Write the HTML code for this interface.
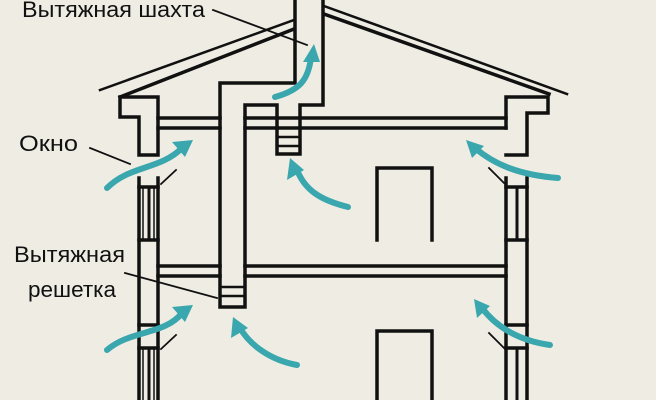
<!DOCTYPE html>
<html><head><meta charset="utf-8"><style>
html,body{margin:0;padding:0;background:#efede3;}
svg{display:block}
text{font-family:"Liberation Sans",sans-serif;font-size:22px;fill:#111}
</style></head><body>
<svg width="656" height="400" viewBox="0 0 656 400" xmlns="http://www.w3.org/2000/svg">
<rect width="656" height="400" fill="#efede3"/>
<g stroke="#111" fill="none" stroke-width="3.5" stroke-linecap="square">
<line x1="100" y1="90" x2="294" y2="20" stroke-width="2.5"/>
<line x1="120" y1="97" x2="294" y2="29"/>
<line x1="324" y1="6" x2="567" y2="94" stroke-width="2.5"/>
<line x1="324" y1="14" x2="549" y2="94"/>
<polyline points="158,128 158,97 120,97 120,117 139,117 139,155 158,155 158,128"/>
<line x1="139" y1="178" x2="139" y2="400"/>
<line x1="158" y1="178" x2="158" y2="400"/>
<line x1="139" y1="187" x2="158" y2="187"/>
<line x1="139" y1="240" x2="158" y2="240"/>
<line x1="149" y1="187" x2="149" y2="240" stroke-width="3"/>
<line x1="143" y1="187" x2="143" y2="240" stroke-width="1.5"/>
<line x1="154" y1="187" x2="154" y2="240" stroke-width="1.5"/>
<line x1="139" y1="325" x2="158" y2="325"/>
<line x1="139" y1="348" x2="158" y2="348"/>
<line x1="149" y1="348" x2="149" y2="400" stroke-width="3"/>
<line x1="143" y1="348" x2="143" y2="400" stroke-width="1.5"/>
<line x1="154" y1="348" x2="154" y2="400" stroke-width="1.5"/>
<polyline points="506,128 506,97 548,97 548,113 527,113 527,155 506,155"/>
<line x1="506" y1="178" x2="506" y2="400"/>
<line x1="527" y1="178" x2="527" y2="400"/>
<line x1="506" y1="187" x2="527" y2="187"/>
<line x1="506" y1="240" x2="527" y2="240"/>
<line x1="517" y1="187" x2="517" y2="240" stroke-width="3"/>
<line x1="506" y1="325" x2="527" y2="325"/>
<line x1="506" y1="348" x2="527" y2="348"/>
<line x1="517" y1="348" x2="517" y2="400" stroke-width="3"/>
<line x1="158" y1="118" x2="220" y2="118"/>
<line x1="158" y1="128" x2="220" y2="128"/>
<line x1="245" y1="118" x2="506" y2="118"/>
<line x1="245" y1="128" x2="506" y2="128"/>
<line x1="158" y1="266" x2="220" y2="266"/>
<line x1="158" y1="276" x2="220" y2="276"/>
<line x1="245" y1="266" x2="506" y2="266"/>
<line x1="245" y1="276" x2="506" y2="276"/>
<polyline points="295,0 295,83 220,83 220,307 245,307 245,105 277,105 277,154 300,154 300,105 323,105 323,0"/>
<line x1="220" y1="287" x2="245" y2="287" stroke-width="2.5"/>
<line x1="220" y1="296" x2="245" y2="296" stroke-width="2.5"/>
<line x1="277" y1="137" x2="300" y2="137" stroke-width="2.5"/>
<line x1="277" y1="146" x2="300" y2="146" stroke-width="2.5"/>
<polyline points="377,240 377,168 432,168 432,240"/>
<polyline points="377,400 377,331 432,331 432,400"/>
<g stroke-width="1.8">
<line x1="213" y1="10" x2="307" y2="45"/>
<line x1="90" y1="148" x2="130" y2="164"/>
<line x1="125" y1="273" x2="217" y2="298"/>
<line x1="176" y1="170" x2="161" y2="184"/>
<line x1="176" y1="335" x2="161" y2="349"/>
<line x1="489" y1="168" x2="505" y2="184"/>
<line x1="489" y1="333" x2="505" y2="349"/>
</g>
</g>
<g stroke="#3aa7ae" stroke-width="6" fill="none" stroke-linecap="round">
<path d="M107,188 C130,165 160,170 182,148"/>
<path d="M348,207 C320,200 305,190 297,170"/>
<path d="M558,178 C520,175 495,165 475,148"/>
<path d="M107,350 C130,330 165,335 182,313"/>
<path d="M297,365 C270,360 250,345 240,328"/>
<path d="M550,345 C515,340 495,325 482,308"/>
<path d="M275,97 C300,90 308,80 311,58"/>
</g>
<g fill="#3aa7ae">
<polygon points="193,140 172,142 185,157"/>
<polygon points="290,158 287,180 304,170"/>
<polygon points="466,140 472,158 484,146"/>
<polygon points="193,305 172,307 185,322"/>
<polygon points="233,317 231,338 248,328"/>
<polygon points="474,299 477,318 490,306"/>
<polygon points="314,44 303,62 320,62"/>
</g>
<text x="22" y="17" textLength="183" lengthAdjust="spacingAndGlyphs">Вытяжная шахта</text>
<text x="19" y="151" textLength="59" lengthAdjust="spacingAndGlyphs">Окно</text>
<text x="14" y="262" textLength="111" lengthAdjust="spacingAndGlyphs">Вытяжная</text>
<text x="28" y="297" textLength="88" lengthAdjust="spacingAndGlyphs">решетка</text>
</svg>
</body></html>
